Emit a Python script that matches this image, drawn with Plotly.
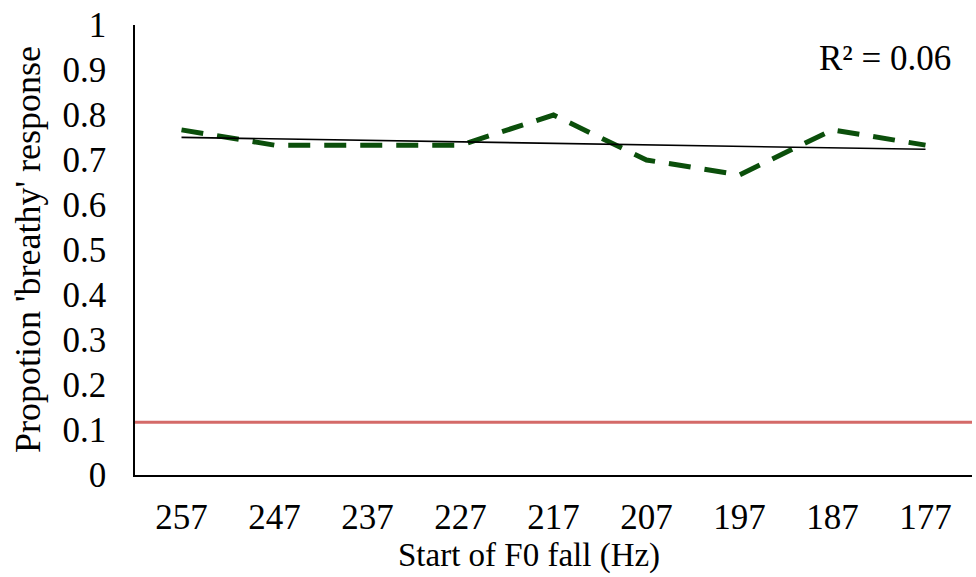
import numpy as np
import plotly.graph_objects as go

categories = ["257", "247", "237", "227", "217", "207", "197", "187", "177"]
proportion_breathy = [0.767, 0.733, 0.733, 0.733, 0.800, 0.700, 0.667, 0.767, 0.733]
chance_level = 0.117
y_tick_values = [0, 0.1, 0.2, 0.3, 0.4, 0.5, 0.6, 0.7, 0.8, 0.9, 1.0]
y_tick_labels = ["0", "0.1", "0.2", "0.3", "0.4", "0.5", "0.6", "0.7", "0.8", "0.9", "1"]
r2_label = "R² = 0.06"

FONT = "'Times New Roman', 'Liberation Serif', Times, serif"

idx = np.arange(len(categories))
slope, intercept = np.polyfit(idx, proportion_breathy, 1)
trend = slope * idx + intercept

fig = go.Figure()
fig.add_trace(go.Scatter(
    x=categories, y=proportion_breathy, mode="lines",
    line=dict(color="#0b4f0b", width=5, dash="22px,14px"),
    showlegend=False, hoverinfo="skip"))
fig.add_trace(go.Scatter(
    x=categories, y=trend, mode="lines",
    line=dict(color="#000000", width=1.6),
    showlegend=False, hoverinfo="skip"))

fig.add_shape(type="line", xref="paper", yref="y", x0=0, x1=1,
              y0=chance_level, y1=chance_level,
              line=dict(color="#d46a68", width=3), layer="above")

fig.add_annotation(text=r2_label, xref="paper", yref="paper",
                   x=(953 - 135) / 837, y=(475 - 58) / 450, xanchor="right", yanchor="middle",
                   showarrow=False, font=dict(family=FONT, size=35, color="#000"))
fig.add_annotation(text="Start of F0 fall (Hz)", xref="paper", yref="paper",
                   x=(529 - 135) / 837, y=-(555 - 475) / 450, xanchor="center", yanchor="middle",
                   showarrow=False, font=dict(family=FONT, size=33, color="#000"))
fig.add_annotation(text="Propotion 'breathy' response", xref="paper", yref="paper",
                   x=-(135 - 28) / 837, y=(475 - 250) / 450, xanchor="center", yanchor="middle",
                   textangle=-90,
                   showarrow=False, font=dict(family=FONT, size=36, color="#000"))

fig.update_layout(
    width=976, height=577,
    margin=dict(l=135, r=4, t=25, b=102),
    paper_bgcolor="white", plot_bgcolor="white",
    font=dict(family=FONT, size=35, color="#000"),
    xaxis=dict(type="category", range=[-0.5, 8.5], showgrid=False, zeroline=False,
               showline=True, linecolor="#000", linewidth=1.5, ticks="",
               ticklabelstandoff=10, tickfont=dict(family=FONT, size=35)),
    yaxis=dict(range=[0, 1], tickvals=y_tick_values, ticktext=y_tick_labels,
               showgrid=False, zeroline=False, showline=True, linecolor="#000",
               linewidth=1.5, ticks="", ticklabelstandoff=20,
               tickfont=dict(family=FONT, size=35)),
)

fig.write_html("out.html", config={"displayModeBar": False},
               post_script="document.body.style.margin='0px';")
